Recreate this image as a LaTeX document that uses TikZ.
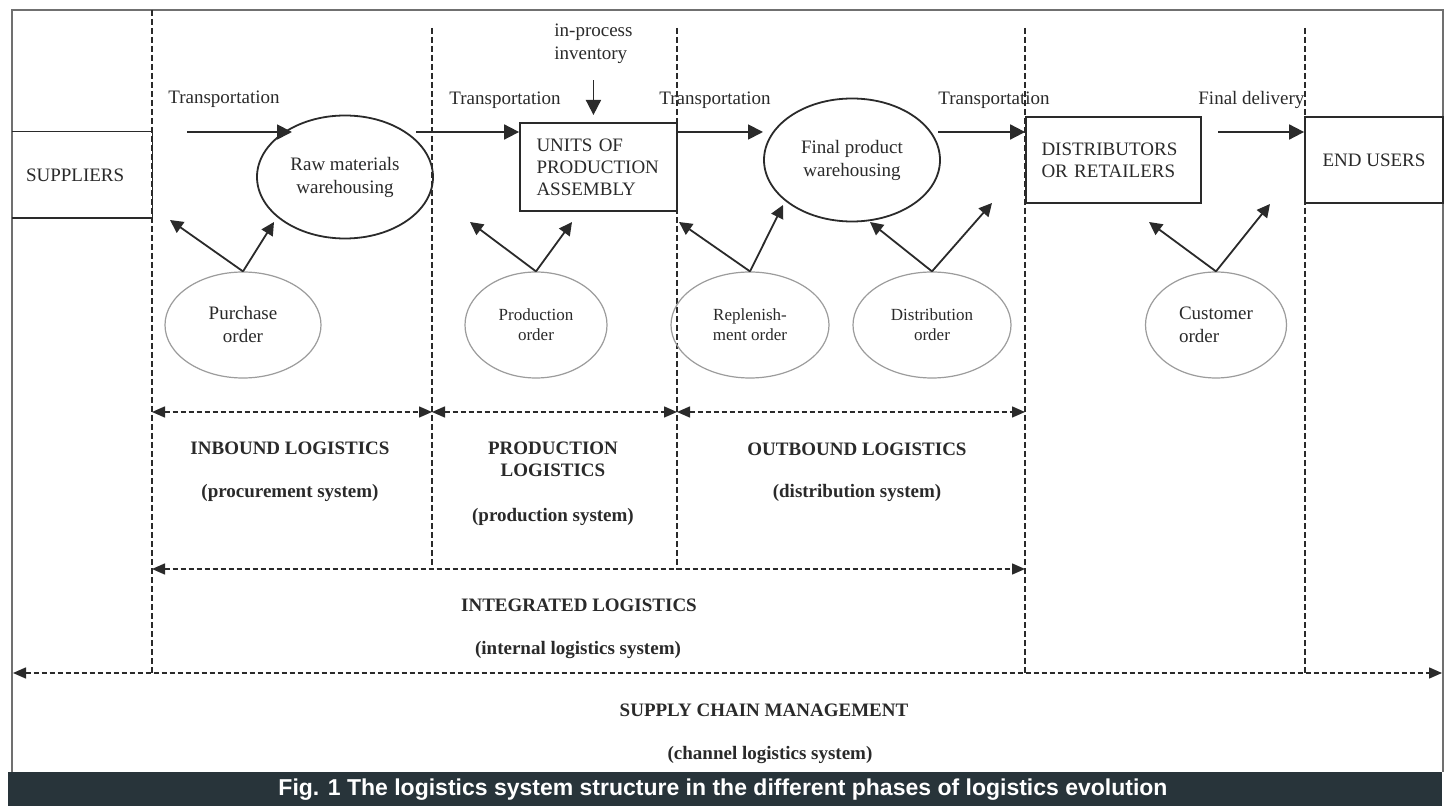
\documentclass[tikz,border=0pt]{standalone}
\usepackage{fontspec}
\setmainfont{Liberation Serif}
\newfontfamily\capfont{Liberation Sans}
\usetikzlibrary{shapes.geometric,arrows.meta}
\definecolor{capbg}{HTML}{28343A}
\definecolor{ordgray}{HTML}{9C9C9C}
\definecolor{framegray}{HTML}{707070}
\definecolor{ink}{HTML}{2A2A2A}
\begin{document}
\begin{tikzpicture}[x=0.5pt,y=-0.5pt,
  lbl/.style={font=\fontsize{9.5}{11.5}\selectfont, inner sep=0pt, text=ink},
  lblb/.style={font=\bfseries\fontsize{9.5}{11}\selectfont, inner sep=0pt, text=ink, align=center},
  bigell/.style={ellipse, draw=ink, line width=0.9pt, minimum width=88pt, minimum height=61.5pt, inner sep=0pt, align=center, font=\fontsize{9.5}{11.5}\selectfont, text=ink},
  ordell/.style={ellipse, draw=ordgray, line width=0.6pt, minimum height=53pt, inner sep=0pt, align=center, text=ink},
  boxn/.style={rectangle, draw=ink, line width=0.9pt, align=left, font=\fontsize{9.5}{11}\selectfont, text=ink},
  flow/.style={draw=ink, line width=0.9pt, -{Triangle[length=7.5pt,width=7.5pt]}},
  ordarrow/.style={draw=ink, line width=0.9pt, -{Triangle[length=6.5pt,width=6.5pt]}},
  sepline/.style={draw=ink, line width=0.65pt, dash pattern=on 3pt off 1.5pt},
  span/.style={draw=ink, line width=0.75pt, dash pattern=on 2.5pt off 1.5pt, {Triangle[length=6.5pt,width=5.5pt]}-{Triangle[length=6.5pt,width=5.5pt]}},
  framel/.style={draw=framegray, line width=1pt}
]
\useasboundingbox (0,0) rectangle (1450,806);
\fill[white] (0,0) rectangle (1450,806);

% frame
\draw[framel] (12,772) -- (12,10) -- (1443,10) -- (1443,772);

% vertical separators
\coordinate (v1t) at (152,10);   \coordinate (v1b) at (152,673);
\coordinate (v2t) at (432,28);   \coordinate (v2b) at (432,570);
\coordinate (v3t) at (677,28);   \coordinate (v3b) at (677,570);
\coordinate (v4t) at (1025,28);  \coordinate (v4b) at (1025,673);
\coordinate (v5t) at (1305,28);  \coordinate (v5b) at (1305,673);
\draw[sepline] (v1t) -- (v1b);
\draw[sepline] (v2t) -- (v2b);
\draw[sepline] (v3t) -- (v3b);
\draw[sepline] (v4t) -- (v4b);
\draw[sepline] (v5t) -- (v5b);

% suppliers
\node[lbl, minimum width=70pt, minimum height=43pt, text width=56pt, inner xsep=7pt, align=left] (sup) at (82,175) {SUPPLIERS};
\draw[draw=ink, line width=0.9pt] (sup.north west) -- (sup.north east) -- (sup.south east) -- (sup.south west);

% main nodes
\node[bigell] (raw) at (345,177) {Raw materials\\warehousing};
\node[boxn, minimum width=78.5pt, minimum height=44pt, text width=62pt, inner xsep=8.25pt] (units) at (598.5,167) {UNITS OF\\PRODUCTION\\ASSEMBLY};
\node[bigell] (fin) at (852,160) {Final product\\warehousing};
\node[boxn, minimum width=87.5pt, minimum height=43pt, text width=72pt, inner xsep=7.75pt] (dist) at (1113.5,160) {DISTRIBUTORS\\OR RETAILERS};
\node[boxn, minimum width=69pt, minimum height=43pt, align=center] (eu) at (1374,160) {END USERS};

% transportation labels
\node[lbl, anchor=west] (t1) at (168,99) {Transportation};
\node[lbl, anchor=west] (t2) at (449,100) {Transportation};
\node[lbl, anchor=west] (t3) at (659,100) {Transportation};
\node[lbl, anchor=west] (t4) at (938,100) {Transportation};
\node[lbl, anchor=west] (t5) at (1198,100) {Final delivery};
\node[lbl, anchor=west, align=left] (inv) at (554,44) {in-process\\inventory};

% flow arrows
\coordinate (f1s) at (187,132); \coordinate (f1e) at (292,132);
\coordinate (f2s) at (416,132);
\coordinate (f3s) at (677,132); \coordinate (f3e) at (763,132);
\coordinate (f4s) at (938,132);
\coordinate (f5s) at (1218,132);
\draw[flow] (f1s) -- (f1e);
\draw[flow] (f2s) -- (f2s -| units.west);
\draw[flow] (f3s -| units.east) -- (f3e);
\draw[flow] (f4s) -- (f4s -| dist.west);
\draw[flow] (f5s) -- (f5s -| eu.west);
\coordinate (invtip) at (591,115);
\draw[flow] ([yshift=-8pt]inv.south) -- (inv.south |- invtip);

% order ellipses
\node[ordell, minimum width=78pt, font=\fontsize{9.5}{11.5}\selectfont] (po) at (243,325) {Purchase\\order};
\node[ordell, minimum width=71pt, font=\fontsize{8.5}{10}\selectfont] (pro) at (536,325) {Production\\order};
\node[ordell, minimum width=79pt, font=\fontsize{8.5}{10}\selectfont] (rep) at (750,325) {Replenish-\\ment order};
\node[ordell, minimum width=79pt, font=\fontsize{8.5}{10}\selectfont] (dio) at (932,325) {Distribution\\order};
\node[ordell, minimum width=70.5pt, font=\fontsize{9.5}{11.5}\selectfont, align=left] (cus) at (1216,325) {Customer\\order};

% order arrows
\coordinate (poL) at (170,220);  \coordinate (poR) at (274,222);
\coordinate (proL) at (470,222); \coordinate (proR) at (572,222);
\coordinate (repL) at (679,222); \coordinate (repR) at (783,205);
\coordinate (dioL) at (870,222); \coordinate (dioR) at (992,203);
\coordinate (cusL) at (1149,222); \coordinate (cusR) at (1270,204);
\draw[ordarrow] (po.north) -- (poL);
\draw[ordarrow] (po.north) -- (poR);
\draw[ordarrow] (pro.north) -- (proL);
\draw[ordarrow] (pro.north) -- (proR);
\draw[ordarrow] (rep.north) -- (repL);
\draw[ordarrow] (rep.north) -- (repR);
\draw[ordarrow] (dio.north) -- (dioL);
\draw[ordarrow] (dio.north) -- (dioR);
\draw[ordarrow] (cus.north) -- (cusL);
\draw[ordarrow] (cus.north) -- (cusR);

% span arrows
\coordinate (s1a) at (152,412);  \coordinate (s1b) at (432,412);
\coordinate (s2a) at (432,412);  \coordinate (s2b) at (677,412);
\coordinate (s3a) at (677,412);  \coordinate (s3b) at (1025,412);
\coordinate (s4a) at (152,569);  \coordinate (s4b) at (1025,569);
\coordinate (s5a) at (13,673);   \coordinate (s5b) at (1442,673);
\draw[span] (s1a) -- (s1b);
\draw[span] (s2a) -- (s2b);
\draw[span] (s3a) -- (s3b);
\draw[span] (s4a) -- (s4b);
\draw[span] (s5a) -- (s5b);

% phase labels
\node[lblb] (inb) at (290,448) {INBOUND LOGISTICS};
\node[lblb] (inbs) at (290,493) {(procurement system)};
\node[lblb] (prl) at (553,459) {PRODUCTION\\LOGISTICS};
\node[lblb] (prls) at (553,517) {(production system)};
\node[lblb] (outb) at (857,449) {OUTBOUND LOGISTICS};
\node[lblb] (outbs) at (857,493) {(distribution system)};
\node[lblb] (intl) at (579,605) {INTEGRATED LOGISTICS};
\node[lblb] (intls) at (578,650) {(internal logistics system)};
\node[lblb] (scm) at (764,710) {SUPPLY CHAIN MANAGEMENT};
\node[lblb] (scms) at (770,755) {(channel logistics system)};

% caption
\fill[capbg] (8,772) rectangle (1442,806);
\node[font=\capfont\bfseries\fontsize{11.5}{13}\selectfont, text=white, inner sep=0pt] (cap) at (723,790) {Fig. 1 The logistics system structure in the different phases of logistics evolution};
\end{tikzpicture}
\end{document}
